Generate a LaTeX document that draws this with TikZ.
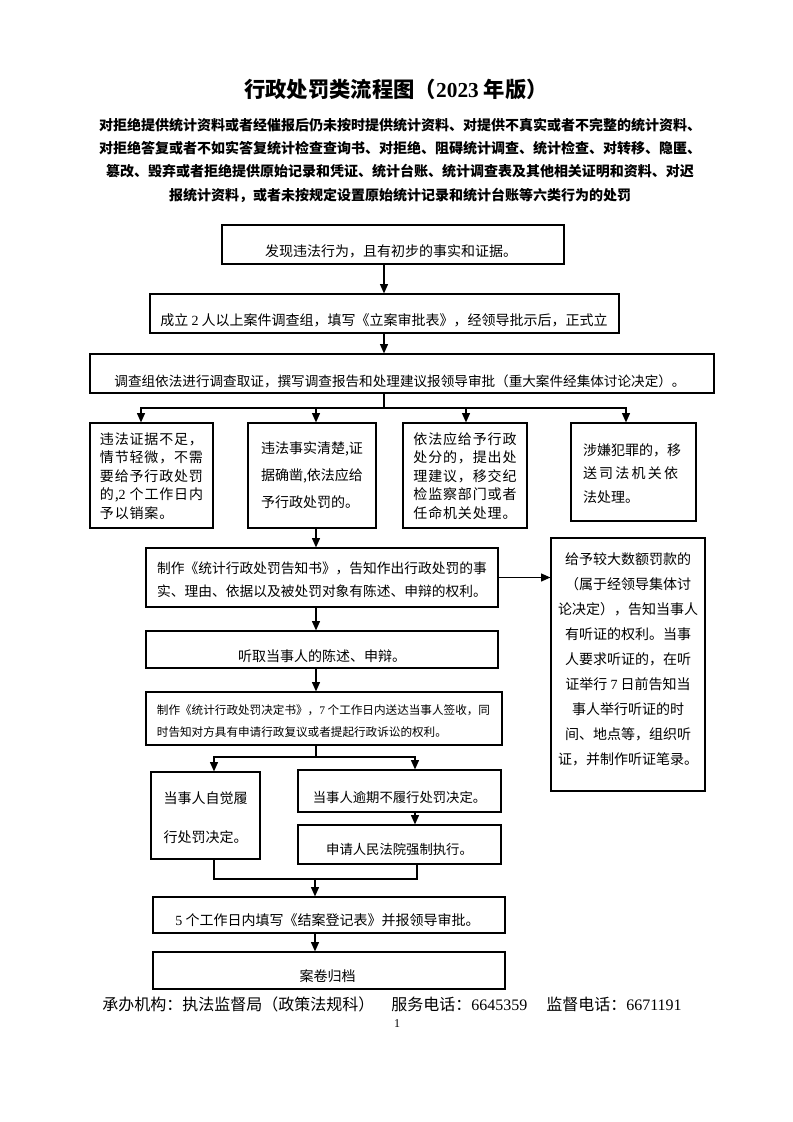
\documentclass[tikz,border=0pt]{standalone}
\usepackage{fontspec}
\setmainfont{Noto Sans CJK SC}
\newfontfamily\lat{Liberation Serif}
\usetikzlibrary{arrows.meta,fit,calc}
\newcommand\setfs[2]{\fontsize{#1pt}{#2pt}\selectfont}
\tikzset{
  box/.style={draw, line width=0.9pt, inner sep=0pt},
  txt/.style={inner sep=0pt, align=center},
  txl/.style={inner sep=0pt, align=left},
  arr/.style={line width=0.9pt, -{Triangle[length=7pt,width=6pt]}},
  ln/.style={line width=0.9pt},
  body/.style={font=\setfs{10.5}{14}},
}
\begin{document}
\begin{tikzpicture}[x=0.75pt,y=-0.75pt]
\useasboundingbox (0,0) rectangle (793,1122);
\fill[white] (0,0) rectangle (793,1122);

% title and subtitle
\node[txt, font=\setfs{16}{20}\bfseries] (title) at (396,89) {行政处罚类流程图（{\lat 2023} 年版）};
\node[txt, font=\setfs{10.5}{17.5}\bfseries] (sub) at (400,160) {对拒绝提供统计资料或者经催报后仍未按时提供统计资料、对提供不真实或者不完整的统计资料、\\
对拒绝答复或者不如实答复统计检查查询书、对拒绝、阻碍统计调查、统计检查、对转移、隐匿、\\
篡改、毁弃或者拒绝提供原始记录和凭证、统计台账、统计调查表及其他相关证明和资料、对迟\\
报统计资料，或者未按规定设置原始统计记录和统计台账等六类行为的处罚};

% boxes
\node[box, fit={(222,225)(564,264)}] (b1) {};
\node[box, fit={(150,294)(619,333)}] (b2) {};
\node[box, fit={(90,354)(714,393)}] (b3) {};
\node[box, fit={(90,423)(213,528)}] (bA) {};
\node[box, fit={(248,423)(376,528)}] (bB) {};
\node[box, fit={(403,423)(527,528)}] (bC) {};
\node[box, fit={(571,423)(696,521)}] (bD) {};
\node[box, fit={(146,548)(498,607)}] (gz) {};
\node[box, fit={(551,538)(705,791)}] (rb) {};
\node[box, fit={(146,631)(498,668)}] (tq) {};
\node[box, fit={(146,692)(502,745)}] (jd) {};
\node[box, fit={(151,772)(260,859)}] (zj) {};
\node[box, fit={(298,770)(501,812)}] (yq) {};
\node[box, fit={(298,825)(501,864)}] (sq) {};
\node[box, fit={(153,897)(505,933)}] (ja) {};
\node[box, fit={(153,952)(505,989)}] (gd) {};

% texts
\node[txt, body] (t1) at (391,251) {发现违法行为，且有初步的事实和证据。};
\node[txt, body] (t2) at (384,320) {成立 {\lat 2} 人以上案件调查组，填写《立案审批表》，经领导批示后，正式立};
\node[txt, font=\setfs{10.2}{14}] (t3) at (400,381) {调查组依法进行调查取证，撰写调查报告和处理建议报领导审批（重大案件经集体讨论决定）。};
\node[txl, font=\setfs{10.5}{13.9}\addfontfeature{LetterSpace=6}] (tA) at (151.5,476) {违法证据不足，\\情节轻微，不需\\要给予行政处罚\\的,{\lat 2} 个工作日内\\予以销案。};
\node[txl, font=\setfs{10.5}{20}] (tB) at (312,475) {违法事实清楚,证\\据确凿,依法应给\\予行政处罚的。};
\node[txl, font=\setfs{10.5}{13.9}\addfontfeature{LetterSpace=6}] (tC) at (465,476) {依法应给予行政\\处分的，提出处\\理建议，移交纪\\检监察部门或者\\任命机关处理。};
\node[txl, font=\setfs{10.5}{17.6}] (tD) at (632,473.5) {涉嫌犯罪的，移\\{\addfontfeature{LetterSpace=16}送司法机关依}\\法处理。};
\node[txt, font=\setfs{10.3}{17.25}] (tgz) at (322,580) {制作《统计行政处罚告知书》，告知作出行政处罚的事\\实、理由、依据以及被处罚对象有陈述、申辩的权利。};
\node[txt, font=\setfs{10.5}{18.75}] (trb) at (628,659) {给予较大数额罚款的\\（属于经领导集体讨\\论决定），告知当事人\\有听证的权利。当事\\人要求听证的，在听\\证举行 {\lat 7} 日前告知当\\事人举行听证的时\\间、地点等，组织听\\证，并制作听证笔录。};
\node[txt, body] (ttq) at (322,656) {听取当事人的陈述、申辩。};
\node[txl, font=\setfs{8.7}{16.5}] (tjd) at (323.5,721) {制作《统计行政处罚决定书》，{\lat 7} 个工作日内送达当事人签收，同\\时告知对方具有申请行政复议或者提起行政诉讼的权利。};
\node[txl, font=\setfs{10.5}{29}] (tzj) at (205.5,817.5) {当事人自觉履\\行处罚决定。};
\node[txt, font=\setfs{10}{14}] (tyq) at (399.5,797) {当事人逾期不履行处罚决定。};
\node[txt, font=\setfs{10}{14}] (tsq) at (399.5,849) {申请人民法院强制执行。};
\node[txt, body] (tja) at (327.5,920) {{\lat 5} 个工作日内填写《结案登记表》并报领导审批。};
\node[txt, body] (tgd) at (327.5,976) {案卷归档};

% footer
\node[anchor=west, inner sep=0pt, font=\setfs{12}{14}] (f1) at (102,1004) {承办机构：执法监督局（政策法规科）};
\node[anchor=west, inner sep=0pt, font=\setfs{12}{14}] (f2) at (391,1004) {服务电话：{\lat 6645359}};
\node[anchor=west, inner sep=0pt, font=\setfs{12}{14}] (f3) at (546,1004) {监督电话：{\lat 6671191}};
\node[inner sep=0pt, font=\lat\setfs{9}{10}] (pg) at (397,1024) {1};

% helper coordinates
\coordinate (xm) at (384,0);
\coordinate (xA) at (141,0);
\coordinate (xB) at (316,0);
\coordinate (xC) at (466,0);
\coordinate (xD) at (626,0);
\coordinate (xL) at (214,0);
\coordinate (xR) at (415,0);
\coordinate (xR2) at (417,0);
\coordinate (s1) at (384,408);
\coordinate (s2) at (316,757);
\coordinate (m) at (315,879);

% connectors
\draw[arr] (b1.south -| xm) -- (b2.north -| xm);
\draw[arr] (b2.south -| xm) -- (b3.north -| xm);
\draw[ln] (b3.south -| xm) -- (s1);
\draw[arr] (s1) -| (bA.north -| xA);
\draw[arr] (s1) -| (bD.north -| xD);
\draw[arr] (s1 -| xB) -- (bB.north -| xB);
\draw[arr] (s1 -| xC) -- (bC.north -| xC);
\draw[arr] (bB.south -| xB) -- (gz.north -| xB);
\draw[arr] (gz.east) -- (gz.east -| rb.west);
\draw[arr] (gz.south -| xB) -- (tq.north -| xB);
\draw[arr] (tq.south -| xB) -- (jd.north -| xB);
\draw[ln] (jd.south -| xB) -- (s2);
\draw[arr] (s2) -| (zj.north -| xL);
\draw[arr] (s2) -| (yq.north -| xR);
\draw[arr] (yq.south -| xR) -- (sq.north -| xR);
\draw[ln] (zj.south -| xL) |- (m);
\draw[ln] (sq.south -| xR2) |- (m);
\draw[arr] (m) -- (ja.north -| m);
\draw[arr] (ja.south -| m) -- (gd.north -| m);
\end{tikzpicture}
\end{document}
